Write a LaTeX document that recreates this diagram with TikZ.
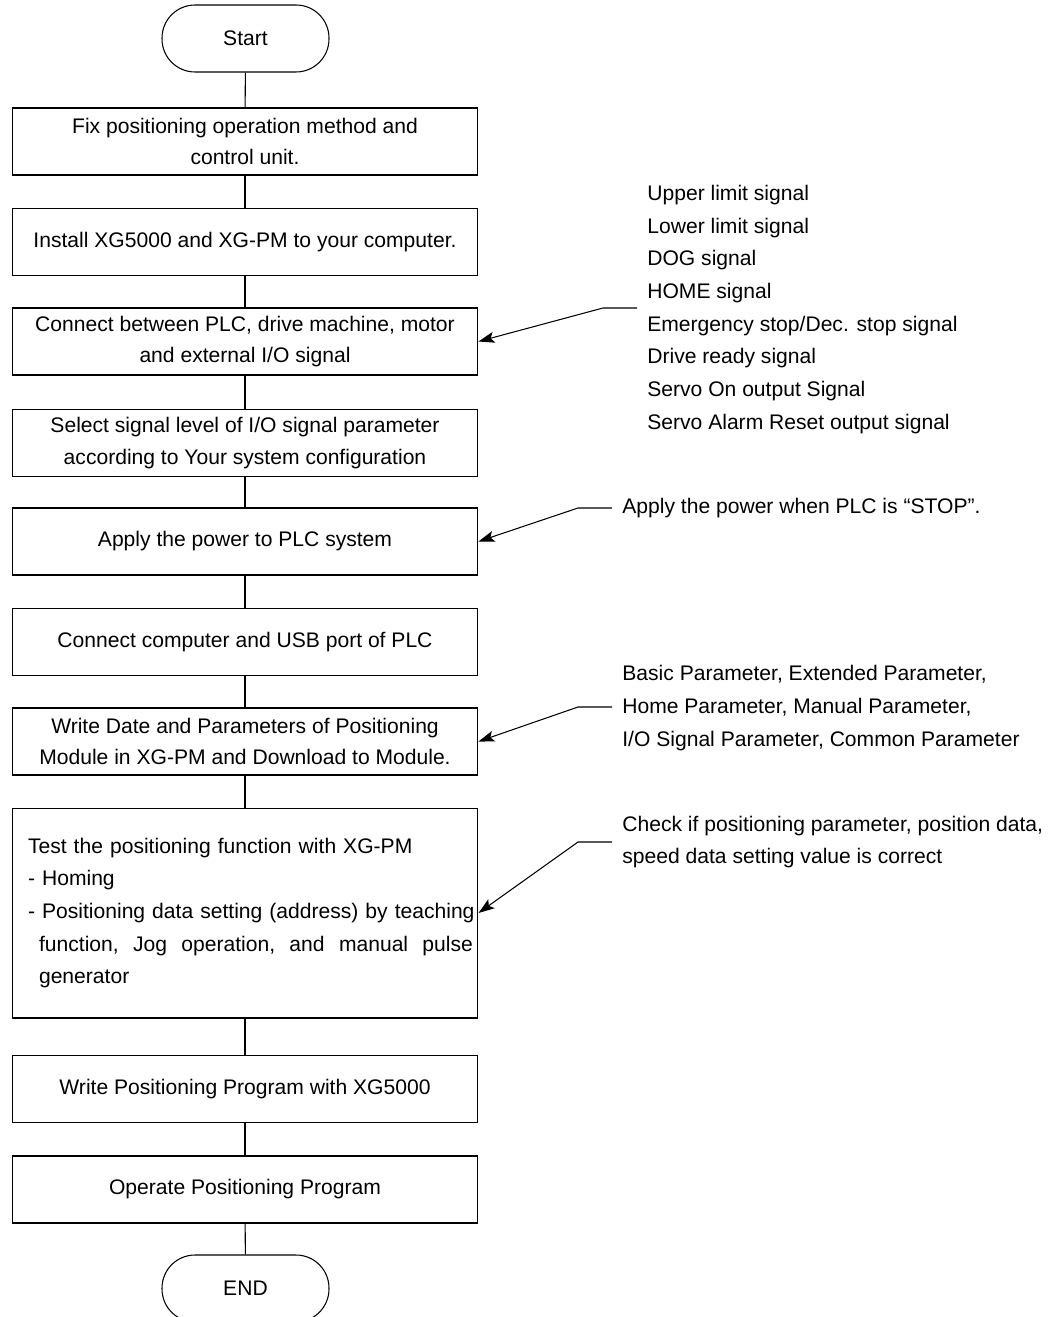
\documentclass[tikz,border=0pt]{standalone}
\usepackage{fontspec}
\setmainfont{Liberation Sans}
\usetikzlibrary{arrows.meta}
\newcommand{\flowfont}{\fontsize{12pt}{17.2pt}\selectfont}
\newcommand{\notefont}{\fontsize{12pt}{18.6pt}\selectfont}
\tikzset{
  stepbox/.style={draw, line width=0.6pt, minimum width=9.32cm, minimum height=1.34cm, align=center, font=\flowfont},
  termbox/.style={draw, line width=0.6pt, rounded corners=0.66cm, minimum width=3.34cm, minimum height=1.34cm, font=\flowfont},
  note/.style={anchor=west, align=left, inner sep=0pt, font=\notefont},
  link/.style={line width=0.6pt},
  callout/.style={line width=0.6pt, -{Stealth[length=0.32cm,width=0.22cm,inset=0.07cm]}}
}
\begin{document}
\begin{tikzpicture}[x=0.02cm, y=-0.02cm]
  \useasboundingbox (0,0) rectangle (1047,1317);
  % flow
  \node[termbox] (start) at (245.5,38.5) {Start};
  \node[stepbox] (b1) at (245,141.5) {Fix positioning operation method and\\control unit.};
  \node[stepbox] (b2) at (245,242) {Install XG5000 and XG-PM to your computer.};
  \node[stepbox] (b3) at (245,341.5) {Connect between PLC, drive machine, motor\\and external I/O signal};
  \node[stepbox, font=\notefont] (b4) at (245,443) {Select signal level of I/O signal parameter\\according to Your system configuration};
  \node[stepbox] (b5) at (245,541.5) {Apply the power to PLC system};
  \node[stepbox] (b6) at (245,642) {Connect computer and USB port of PLC};
  \node[stepbox] (b7) at (245,741.5) {Write Date and Parameters of Positioning\\Module in XG-PM and Download to Module.};
  \node[stepbox, minimum height=4.2cm, align=left, text width=9.12cm, inner xsep=0.1cm, font=\notefont] (b8) at (245,913)
    {\hspace*{0.22cm}\mbox{Test the positioning function with XG-PM}\\
     \hspace*{0.22cm}\mbox{- Homing}\\
     \hspace*{0.22cm}\mbox{- Positioning data setting (address) by teaching}\\
     \hspace*{0.44cm}\hbox to 8.68cm{function,\hfill Jog\hfill operation,\hfill and\hfill manual\hfill pulse}\\
     \hspace*{0.44cm}\mbox{generator}};
  \node[stepbox] (b9) at (245,1089) {Write Positioning Program with XG5000};
  \node[stepbox] (b10) at (245,1189.5) {Operate Positioning Program};
  \node[termbox] (end) at (245.5,1288.5) {END};
  \draw[link] (start) -- (b1);
  \foreach \a/\b in {b1/b2,b2/b3,b3/b4,b4/b5,b5/b6,b6/b7,b7/b8,b8/b9,b9/b10}
    \draw[link] (\a) -- (\b);
  \draw[link] (b10) -- (end);
  % notes
  \node[note] (sig) at (647,309.5) {Upper limit signal\\Lower limit signal\\DOG signal\\HOME signal\\Emergency stop/Dec. stop signal\\Drive ready signal\\Servo On output Signal\\Servo Alarm Reset output signal};
  \node[note] (pw) at (622,508) {Apply the power when PLC is “STOP”.};
  \node[note] (par) at (622,708) {Basic Parameter, Extended Parameter,\\Home Parameter, Manual Parameter,\\I/O Signal Parameter, Common Parameter};
  \node[note] (chk) at (622,842) {Check if positioning parameter, position data,\\speed data setting value is correct};
  \coordinate (s3) at (637,308);  \coordinate (k3) at (603,308);
  \coordinate (s5) at (612,508);  \coordinate (k5) at (578,508);
  \coordinate (s7) at (612,707);  \coordinate (k7) at (578,707);
  \coordinate (s8) at (612,842);  \coordinate (k8) at (578,842);
  \draw[callout] (s3) -- (k3) -- (b3.east);
  \draw[callout] (s5) -- (k5) -- (b5.east);
  \draw[callout] (s7) -- (k7) -- (b7.east);
  \draw[callout] (s8) -- (k8) -- (b8.east);
\end{tikzpicture}
\end{document}
